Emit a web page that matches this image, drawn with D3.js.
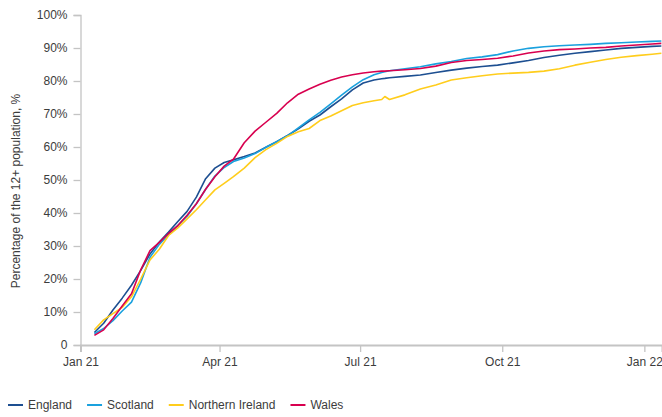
<!DOCTYPE html>
<html>
<head>
<meta charset="utf-8">
<script src="https://cdn.jsdelivr.net/npm/d3@7"></script>
<style>
  body { margin: 0; background: #fff; }
  svg text { font-family: "Liberation Sans", Arial, sans-serif; font-size: 12px; fill: #3c3c3c; }
</style>
</head>
<body>
<svg id="chart"></svg>
<script>
// dates of the readings (first dose uptake, 12+ population)
var dates = [
  "2021-01-10","2021-01-16","2021-01-22","2021-01-28","2021-02-03","2021-02-09","2021-02-15","2021-02-21",
  "2021-02-27","2021-03-05","2021-03-11","2021-03-17","2021-03-23","2021-03-29","2021-04-04","2021-04-10",
  "2021-04-17","2021-04-24","2021-05-01","2021-05-08","2021-05-15","2021-05-22","2021-05-29","2021-06-05",
  "2021-06-12","2021-06-19","2021-06-26","2021-07-03","2021-07-10","2021-07-15","2021-07-17","2021-07-20",
  "2021-07-30","2021-08-09","2021-08-19","2021-08-29","2021-09-08","2021-09-18","2021-09-28","2021-10-08",
  "2021-10-18","2021-10-28","2021-11-07","2021-11-17","2021-11-27","2021-12-07","2021-12-17","2021-12-27",
  "2022-01-06","2022-01-12"
];

var england = [3.8, 6.6, 10.6, 14.2, 18.1, 22.6, 27.6, 31.2, 34.2, 37.4, 40.5, 44.8, 50.4, 53.6, 55.3, 56.1,
  57.1, 58.2, 59.9, 61.6, 63.5, 65.5, 67.8, 69.7, 72.2, 74.6, 77.3, 79.4, 80.3, 80.7, 80.8, 81.0,
  81.4, 81.8, 82.6, 83.3, 83.9, 84.4, 84.8, 85.5, 86.2, 87.1, 87.8, 88.4, 88.9, 89.4, 89.9, 90.2, 90.5, 90.6];

var scotland = [3.4, 5.0, 7.4, 10.3, 13.0, 18.9, 26.6, 30.5, 33.4, 36.2, 39.0, 42.8, 47.2, 51.2, 53.8, 55.6,
  56.7, 58.0, 59.9, 61.6, 63.4, 65.8, 68.2, 70.5, 73.1, 75.7, 78.2, 80.4, 81.9, 82.6, 82.8, 83.1,
  83.7, 84.3, 85.2, 85.9, 86.8, 87.3, 88.0, 89.1, 89.9, 90.4, 90.7, 90.9, 91.1, 91.4, 91.6, 91.8, 92.0, 92.1];

var northernIreland = [4.6, 7.6, 9.5, 11.4, 14.6, 20.0, 25.8, 29.0, 33.2, 35.5, 38.2, 41.0, 44.0, 47.0, 49.0, 51.0,
  53.6, 56.8, 59.2, 61.1, 63.2, 64.6, 65.6, 68.0, 69.4, 71.0, 72.6, 73.4, 74.0, 74.4, 75.3, 74.4,
  75.8, 77.6, 78.8, 80.3, 81.0, 81.6, 82.1, 82.4, 82.6, 83.0, 83.7, 84.8, 85.7, 86.5, 87.2, 87.7, 88.1, 88.4];

var wales = [2.9, 4.6, 8.0, 11.8, 15.5, 22.8, 28.6, 31.1, 33.8, 36.2, 39.3, 42.8, 47.2, 51.0, 54.2, 56.3,
  61.3, 64.8, 67.5, 70.2, 73.4, 76.0, 77.6, 79.0, 80.2, 81.2, 81.9, 82.4, 82.8, 83.0, 83.0, 83.1,
  83.4, 83.8, 84.5, 85.6, 86.2, 86.5, 86.9, 87.6, 88.5, 89.1, 89.5, 89.7, 90.0, 90.2, 90.6, 90.9, 91.2, 91.4];

var seriesNames  = ["England", "Scotland", "Northern Ireland", "Wales"];
var seriesValues = [england, scotland, northernIreland, wales];
var seriesColors = ["#1d4f91", "#1aa1de", "#ffcd1c", "#d8004f"];

var yTicks = [0, 10, 20, 30, 40, 50, 60, 70, 80, 90, 100];

var width = 662,
    height = 417;

var svg = d3.select("#chart")
  .attr("width", width)
  .attr("height", height);

var parseDate = d3.utcParse("%Y-%m-%d");

var x = d3.scaleUtc()
  .domain([Date.UTC(2021, 0, 1), Date.UTC(2022, 0, 12, 10)])
  .range([80.5, 662]);

var y = d3.scaleLinear()
  .domain([0, 100])
  .range([345, 15]);

// y axis
var yAxis = svg.append("g")
  .attr("transform", "translate(80.5,0)")
  .call(d3.axisLeft(y)
    .tickValues(yTicks)
    .tickSize(7)
    .tickPadding(6)
    .tickFormat(function(d) { return d === 0 ? "0" : d + "%"; }));
yAxis.select(".domain").attr("stroke", "#c4c4c4").attr("stroke-width", 1.3);
yAxis.selectAll(".tick line").attr("stroke", "#c4c4c4").attr("stroke-width", 1.3);
yAxis.selectAll("text").attr("font-size", null).attr("font-family", null);
yAxis.attr("font-size", null).attr("font-family", null);

// x axis
var xAxis = svg.append("g")
  .attr("transform", "translate(0,345)")
  .call(d3.axisBottom(x)
    .ticks(d3.utcMonth.every(3))
    .tickSize(7)
    .tickPadding(5)
    .tickFormat(d3.utcFormat("%b %y")));
xAxis.select(".domain").attr("stroke", "#c4c4c4").attr("stroke-width", 2);
xAxis.selectAll(".tick line").attr("stroke", "#c4c4c4").attr("stroke-width", 1.3);
xAxis.attr("font-size", null).attr("font-family", null);

// axis title
svg.append("text")
  .attr("transform", "translate(16,191) rotate(-90)")
  .attr("text-anchor", "middle")
  .attr("dy", "0.35em")
  .text("Percentage of the 12+ population, %");

// lines
var line = d3.line()
  .x(function(d) { return x(d.date); })
  .y(function(d) { return y(d.value); });

seriesNames.forEach(function(name, i) {
  var points = dates.map(function(s, j) {
    return { date: parseDate(s), value: seriesValues[i][j] };
  });
  svg.append("path")
    .datum(points)
    .attr("fill", "none")
    .attr("stroke", seriesColors[i])
    .attr("stroke-width", 1.6)
    .attr("stroke-linejoin", "round")
    .attr("d", line);
});

// legend
var legend = svg.append("g").attr("transform", "translate(8,405)");
var lx = 0;
seriesNames.forEach(function(name, i) {
  var item = legend.append("g").attr("transform", "translate(" + lx + ",0)");
  item.append("line")
    .attr("x1", 0).attr("x2", 15)
    .attr("stroke", seriesColors[i])
    .attr("stroke-width", 2);
  var t = item.append("text")
    .attr("x", 20)
    .attr("dy", "0.35em")
    .text(name);
  lx += 20 + t.node().getComputedTextLength() + 15;
});
</script>
</body>
</html>
